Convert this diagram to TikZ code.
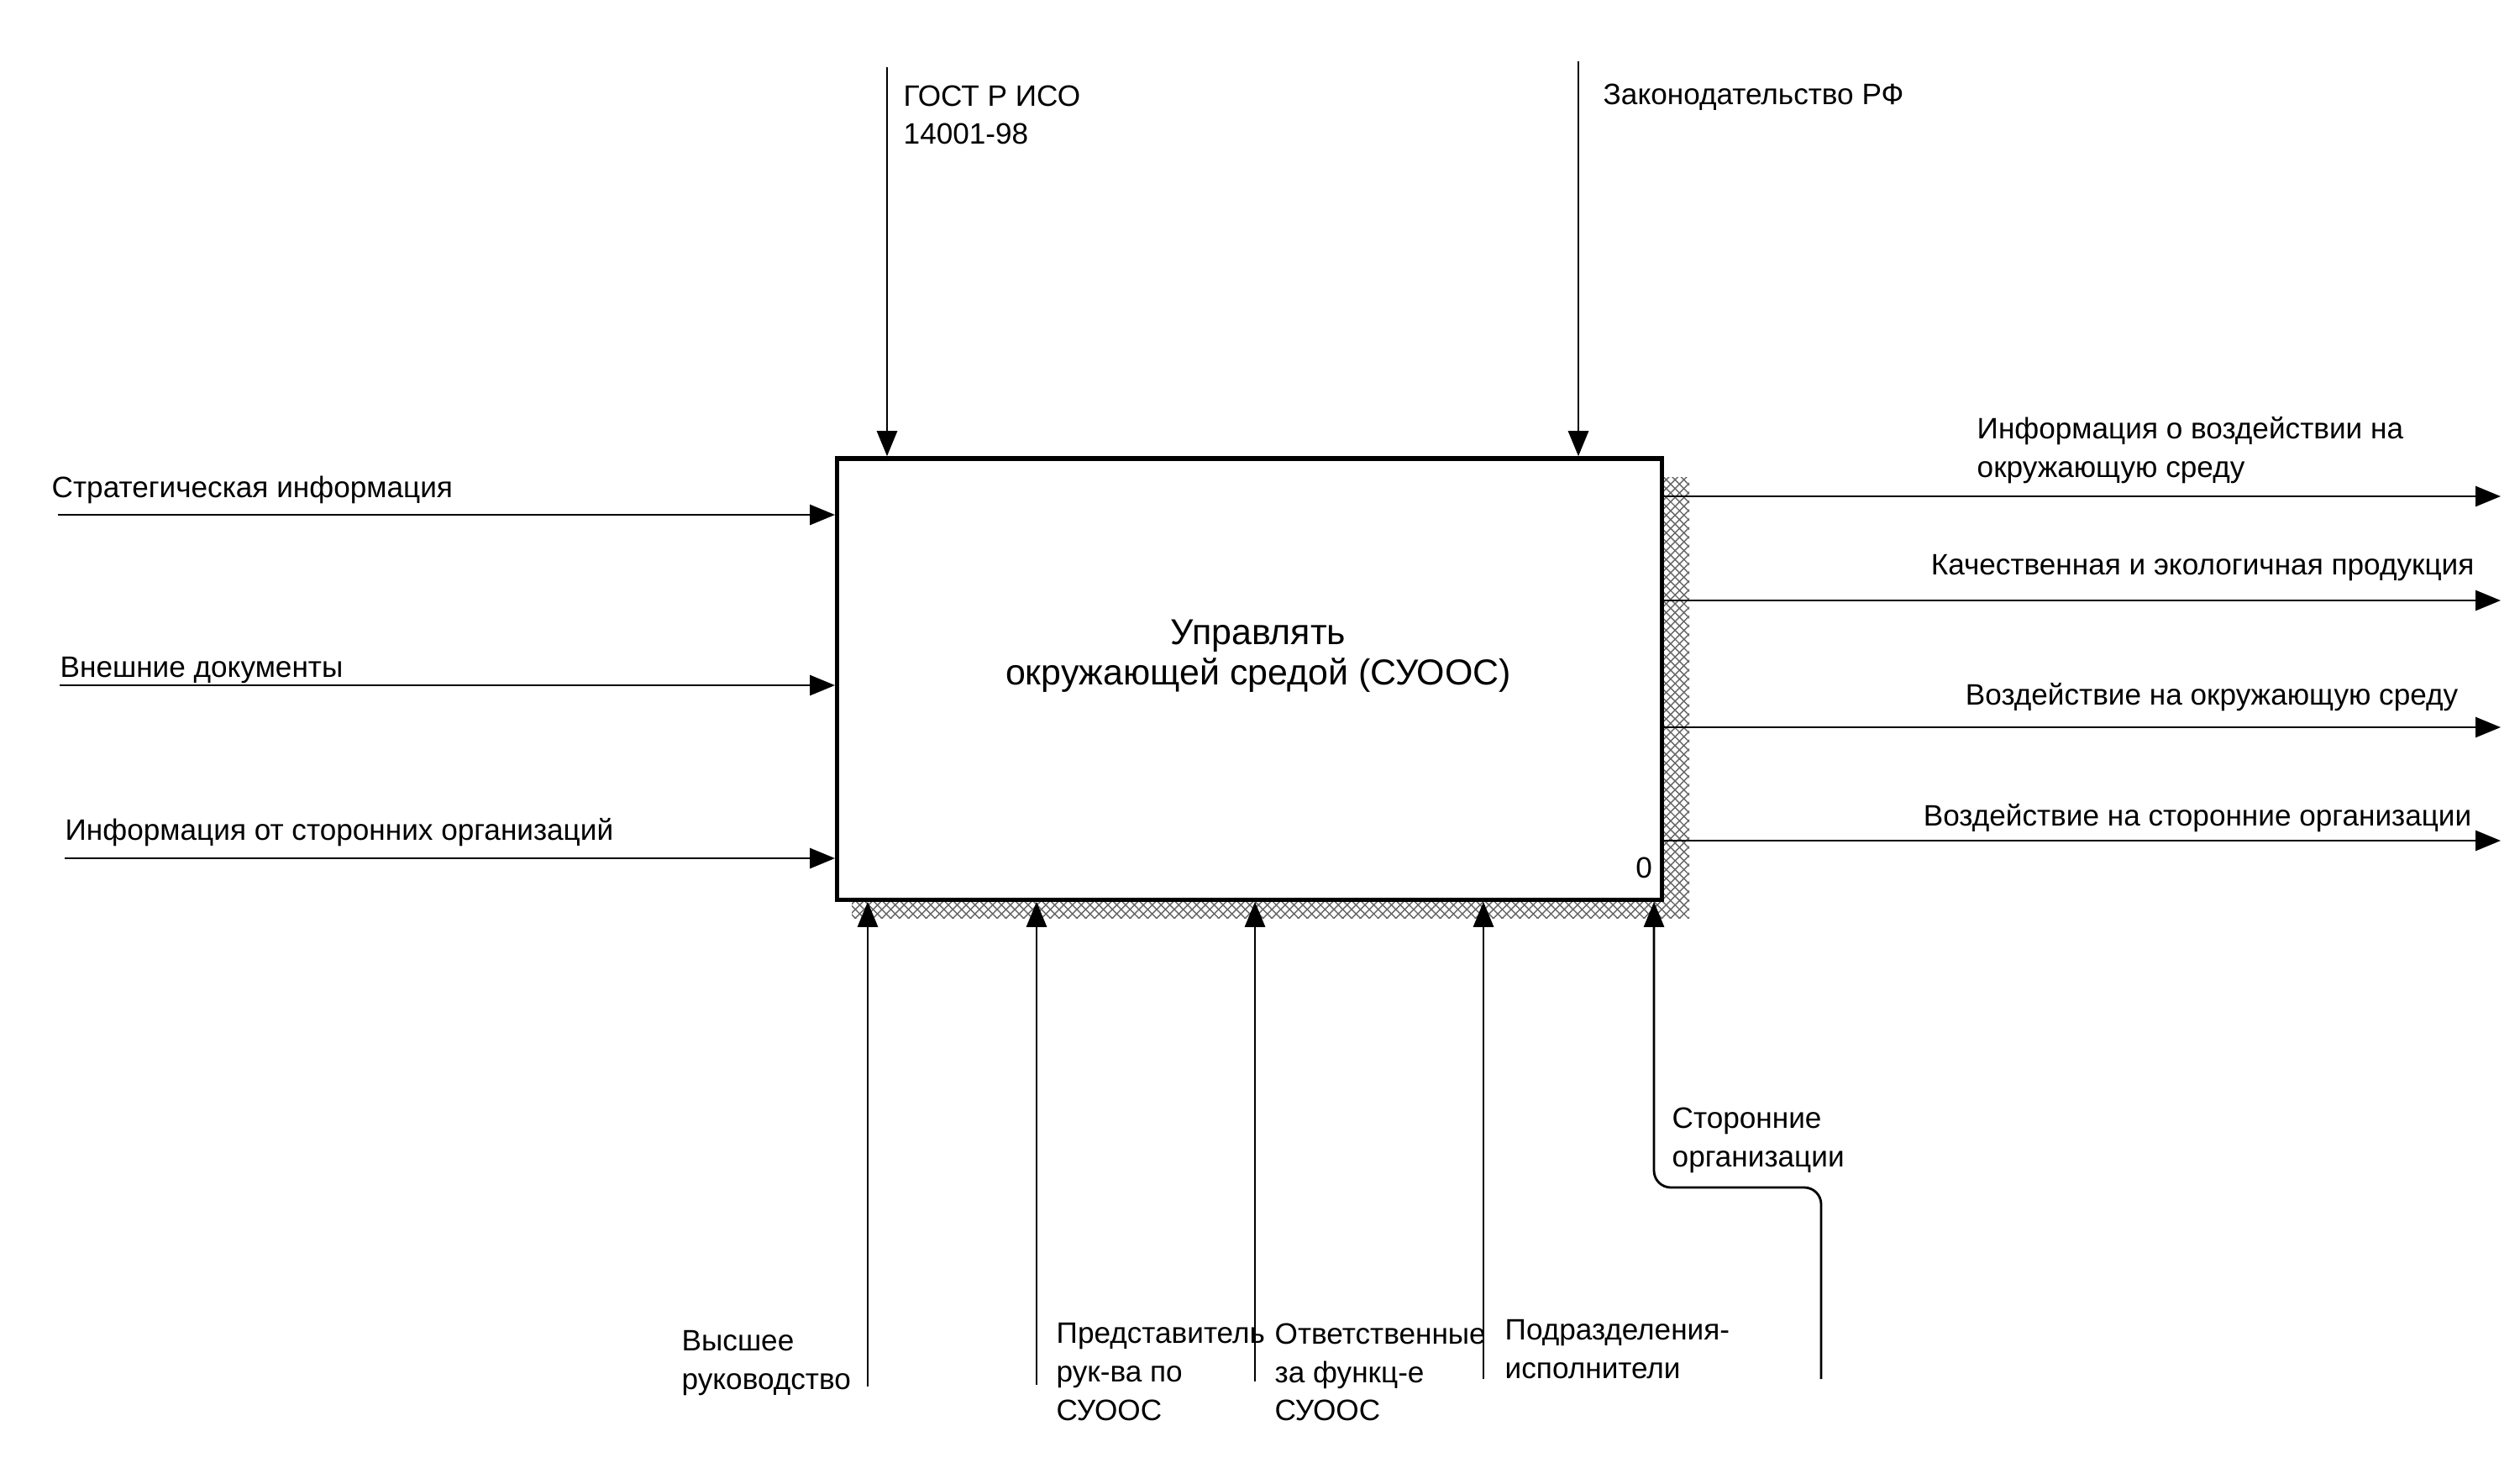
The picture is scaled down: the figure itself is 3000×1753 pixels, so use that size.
\documentclass[tikz,border=0pt]{standalone}
\usepackage{fontspec}
\setmainfont{Liberation Sans}
\usetikzlibrary{arrows.meta,patterns}

\begin{document}
\begin{tikzpicture}[
    x=0.01cm, y=-0.01cm,
    every node/.style={font=\fontsize{10}{13}\selectfont, inner sep=0pt},
    func/.style={draw, line width=1.5pt, fill=white, minimum width=9.81cm, minimum height=5.25cm},
    shadow/.style={pattern=crosshatch, pattern color=black!60},
    title/.style={align=center, font=\fontsize{12.2}{13.8}\selectfont},
    lbl/.style={anchor=north west, align=left},
    rlbl/.style={anchor=north east, align=right},
    flow/.style={-{Triangle[length=3mm, width=2.4mm]}, line width=0.8pt}
]
\useasboundingbox (0,0) rectangle (3000,1753);
\fill[shadow] (1014,568) rectangle (2011,1093);
\node[func] (fn) at (1487.5,808.5) {};
\node[title] (fntext) at (1498,781) {Управлять\\окружающей средой (СУООС)};
\node (num) at (1957,1033) {0};

\coordinate (c1) at (1056,80);
\coordinate (c2) at (1879,73);
\coordinate (i1) at (69,613);
\coordinate (i2) at (71,816);
\coordinate (i3) at (77,1022);
\coordinate (o1) at (2977,591);
\coordinate (o2) at (2977,715);
\coordinate (o3) at (2977,866);
\coordinate (o4) at (2977,1001);
\coordinate (m1) at (1033,1651);
\coordinate (m2) at (1234,1649);
\coordinate (m3) at (1494,1645);
\coordinate (m4) at (1766,1642);
\coordinate (m5) at (2168,1642);
\coordinate (bend) at (1969,1414);

\node[lbl] (gost) at (1075,101) {ГОСТ Р ИСО\\14001-98};
\node[lbl] (law) at (1908,99) {Законодательство РФ};
\node[lbl] (strat) at (61,566) {Стратегическая информация};
\node[lbl] (docs) at (71,782) {Внешние документы};
\node[lbl] (extinfo) at (77,974) {Информация от сторонних организаций};
\node[lbl] (envinfo) at (2353,496) {Информация о воздействии на\\окружающую среду};
\node[rlbl] (product) at (2946,660) {Качественная и экологичная продукция};
\node[rlbl] (envimp) at (2927,813) {Воздействие на окружающую среду};
\node[rlbl] (extimp) at (2943,957) {Воздействие на сторонние организации};
\node[lbl] (mgmt) at (811,1584) {Высшее\\руководство};
\node[lbl] (rep) at (1257,1575) {Представитель\\рук-ва по\\СУООС};
\node[lbl] (resp) at (1517,1575) {Ответственные\\за функц-е\\СУООС};
\node[lbl] (units) at (1791,1571) {Подразделения-\\исполнители};
\node[lbl] (extorg) at (1990,1318) {Сторонние\\организации};

\draw[flow] (c1) -- (c1 |- fn.north);
\draw[flow] (c2) -- (c2 |- fn.north);
\draw[flow] (i1) -- (i1 -| fn.west);
\draw[flow] (i2) -- (i2 -| fn.west);
\draw[flow] (i3) -- (i3 -| fn.west);
\draw[flow] (fn.east |- o1) -- (o1);
\draw[flow] (fn.east |- o2) -- (o2);
\draw[flow] (fn.east |- o3) -- (o3);
\draw[flow] (fn.east |- o4) -- (o4);
\draw[flow] (m1) -- (m1 |- fn.south);
\draw[flow] (m2) -- (m2 |- fn.south);
\draw[flow] (m3) -- (m3 |- fn.south);
\draw[flow] (m4) -- (m4 |- fn.south);
\draw[flow, rounded corners=0.2cm] (m5) |- (bend) -- (bend |- fn.south);
\end{tikzpicture}
\end{document}
